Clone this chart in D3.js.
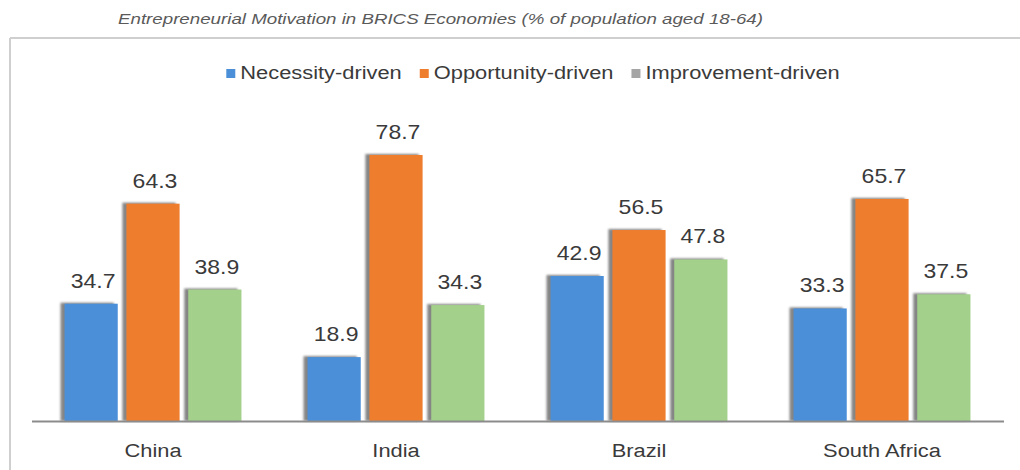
<!DOCTYPE html>
<html>
<head>
<meta charset="utf-8">
<title>BRICS</title>
<script src="https://d3js.org/d3.v7.min.js"></script>
<style>
  body { margin: 0; background: #fff; }
  svg { display: block; font-family: "Liberation Sans", Arial, sans-serif; }
</style>
</head>
<body>
<svg id="chart"></svg>
<script>
const countries = ["China", "India", "Brazil", "South Africa"];
const seriesNames = ["Necessity-driven", "Opportunity-driven", "Improvement-driven"];
const necessity = [34.7, 18.9, 42.9, 33.3];
const opportunity = [64.3, 78.7, 56.5, 65.7];
const improvement = [38.9, 34.3, 47.8, 37.5];
const titleText = "Entrepreneurial Motivation in BRICS Economies (% of population aged 18-64)";

const W = 1020, H = 470;
const barColors = ["#4a8fd8", "#ef7d2e", "#a3d08a"];
const legendColors = ["#4a8fd8", "#ef7d2e", "#a5a5a5"];
const stretch = 1.15;

const svg = d3.select("#chart").attr("width", W).attr("height", H);

// drop shadow blur
svg.append("defs").append("filter").attr("id", "blur")
  .append("feGaussianBlur").attr("stdDeviation", 1.2);

// chart frame (top + left border)
svg.append("line").attr("x1", 10).attr("x2", W).attr("y1", 38).attr("y2", 38)
  .attr("stroke", "#cfcfcf").attr("stroke-width", 2);
svg.append("line").attr("x1", 10).attr("x2", 10).attr("y1", 38).attr("y2", H)
  .attr("stroke", "#cfcfcf").attr("stroke-width", 2);

// title
svg.append("text")
  .attr("x", 118).attr("y", 24)
  .attr("font-size", "14px").attr("font-style", "italic")
  .attr("fill", "#5a5a5a")
  .attr("textLength", 645).attr("lengthAdjust", "spacingAndGlyphs")
  .text(titleText);

const x0 = d3.scaleBand().domain(countries).range([31.5, 1003.5])
  .paddingInner(0.272).paddingOuter(0.136);
const x1 = d3.scaleBand().domain(seriesNames).range([0, x0.bandwidth()]).paddingInner(0.14);
const y = d3.scaleLinear().domain([0, 80]).range([421, 150.6]);

const rows = countries.map((c, i) => ({
  country: c,
  values: [necessity[i], opportunity[i], improvement[i]]
}));

const groups = svg.selectAll("g.grp").data(rows).join("g")
  .attr("class", "grp")
  .attr("transform", d => `translate(${x0(d.country)},0)`);

groups.each(function(d) {
  const g = d3.select(this);
  d.values.forEach((v, k) => {
    const bx = x1(seriesNames[k]);
    const bw = x1.bandwidth();
    g.append("rect")
      .attr("x", bx - 4).attr("y", y(v) - 1)
      .attr("width", bw).attr("height", y(0) - y(v) + 1)
      .attr("fill", "#6f6f6f").attr("opacity", 0.85)
      .attr("filter", "url(#blur)");
    g.append("rect")
      .attr("x", bx).attr("y", y(v))
      .attr("width", bw).attr("height", y(0) - y(v))
      .attr("fill", barColors[k]);
    g.append("text")
      .attr("transform", `translate(${bx + bw / 2 + 2},${y(v) - 16}) scale(${stretch},1)`)
      .attr("text-anchor", "middle")
      .attr("font-size", "20px")
      .attr("fill", "#3a3a3a")
      .text(v.toFixed(1));
  });
});

// baseline axis
const xAxis = d3.axisBottom(x0).tickSize(0).tickPadding(0);
const ax = svg.append("g").attr("transform", `translate(0,${y(0)})`).call(xAxis);
ax.select(".domain").attr("stroke", "#8c8c8c").attr("stroke-width", 2);
ax.selectAll(".tick text").remove();
ax.selectAll(".tick").append("text")
  .attr("transform", `translate(0,36) scale(${stretch},1)`)
  .attr("text-anchor", "middle")
  .attr("font-size", "19px")
  .attr("fill", "#3a3a3a")
  .text(d => d);

// legend
const legend = svg.append("g");
let lx = 0;
seriesNames.forEach((name, k) => {
  const item = legend.append("g").attr("transform", `translate(${lx},0)`);
  item.append("rect").attr("x", 0).attr("y", -8).attr("width", 9).attr("height", 9)
    .attr("fill", legendColors[k]);
  const t = item.append("text")
    .attr("transform", `translate(14,0) scale(${stretch},1)`)
    .attr("font-size", "19px")
    .attr("fill", "#3a3a3a")
    .attr("dy", "0.32em")
    .attr("y", -4)
    .text(name);
  lx += 14 + t.node().getComputedTextLength() * stretch + 18;
});
const legendW = lx - 18;
legend.attr("transform", `translate(${533 - legendW / 2},77)`);
</script>
</body>
</html>
